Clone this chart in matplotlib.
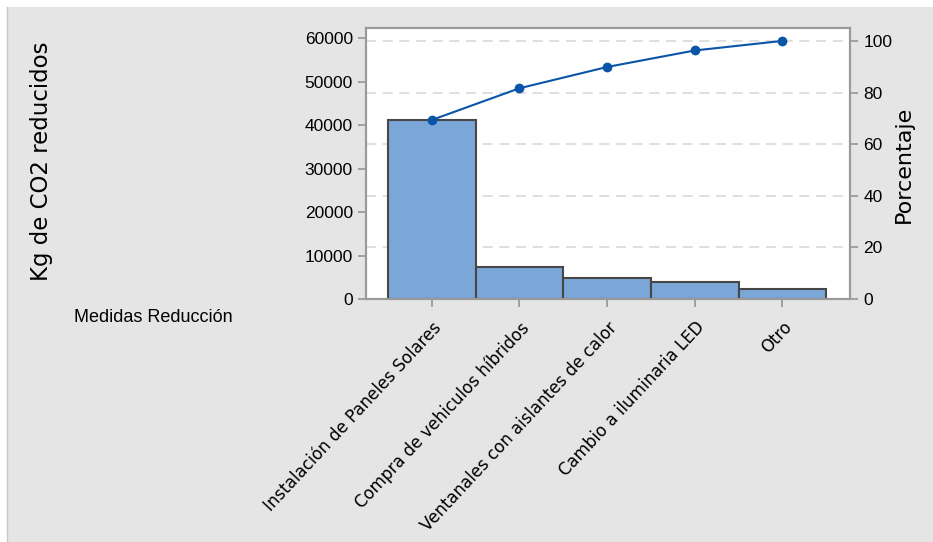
import numpy as np
import matplotlib
matplotlib.use("Agg")
import matplotlib.pyplot as plt
from matplotlib.patches import Rectangle
from matplotlib.lines import Line2D

# datos del diagrama de pareto
medidas = ["Instalación de Paneles Solares", "Compra de vehiculos híbridos",
           "Ventanales con aislantes de calor", "Cambio a iluminaria LED", "Otro"]
kg_co2 = [41200, 7300, 4900, 3800, 2200]
left_ticks = [0, 10000, 20000, 30000, 40000, 50000, 60000]
pct_ticks = [0, 20, 40, 60, 80, 100]

total = sum(kg_co2)
cum_pct = np.cumsum(kg_co2) / total * 100

narrow = ["Liberation Sans", "DejaVu Sans"]
gray_bg = "#e5e5e5"
spine_c = "#9a9a9a"

fig = plt.figure(figsize=(9.33, 5.42), dpi=100, facecolor="white")
fig.patches.append(Rectangle((7/933, 0), 1, 1 - 7/542, transform=fig.transFigure,
                             facecolor=gray_bg, edgecolor="none", zorder=-10))
fig.lines.append(Line2D([7/933, 7/933], [0, 1 - 7/542], transform=fig.transFigure,
                        color="#c8c8c8", lw=1))

ax = fig.add_axes([366/933, 1 - 299/542, (850-366)/933, (299-28)/542])
ax.set_facecolor("white")
x = np.arange(len(medidas))
ytop = 62370
ax.bar(x, kg_co2, width=1.0, color="#7ba6d8", edgecolor="#474747", linewidth=1.5, zorder=2)
ax.set_xlim(-0.75, 4.77)
ax.set_ylim(0, ytop)

#lineas de cuadricula (a nivel de los porcentajes)
for p in pct_ticks[1:]:
    ax.axhline(total * p / 100, color="#d9d9d9", lw=1.2, ls=(0, (6, 4)), zorder=0)

ax.set_yticks(left_ticks)
ax.set_yticklabels([str(t) for t in left_ticks], family=narrow, fontsize=12.5)
ax.set_xticks(x)
ax.set_xticklabels(medidas, rotation=47, ha="right", va="top", rotation_mode="anchor",
                   fontsize=12)
ax.tick_params(axis="both", color=spine_c, length=6, width=1.3)
ax.tick_params(axis="x", pad=8)

ax2 = ax.twinx()
ax2.set_ylim(0, ytop / total * 100)
ax2.plot(x, cum_pct, color="#0a55a8", lw=1.5, marker="o", markersize=6, zorder=3)
ax2.set_yticks(pct_ticks)
ax2.set_yticklabels([str(t) for t in pct_ticks], family=narrow, fontsize=12.5)
ax2.tick_params(axis="y", color=spine_c, length=6, width=1.3)

for a in (ax, ax2):
    for s in a.spines.values():
        s.set_color(spine_c)
        s.set_linewidth(1.5)

fig.text(42/933, 1 - 161/542, "Kg de CO2 reducidos", rotation=90, ha="center", va="center",
         fontsize=16.5)
fig.text(904/933, 1 - 164/542, "Porcentaje", rotation=90, ha="center", va="center",
         fontsize=16)
fig.text(74/933, 1 - 318/542, "Medidas Reducción", ha="left", va="center",
         family=narrow, fontsize=13)

fig.savefig("out.png", dpi=100, facecolor=fig.get_facecolor())
